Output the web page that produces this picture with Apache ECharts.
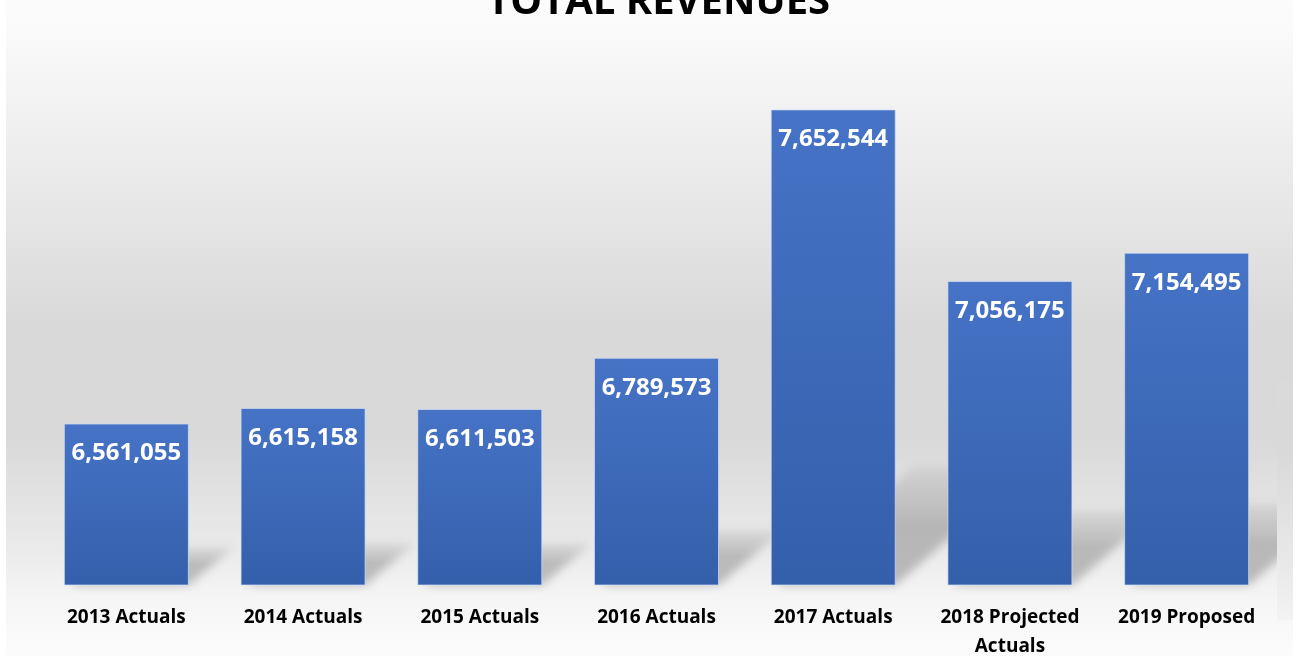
<!DOCTYPE html>
<html>
<head>
<meta charset="utf-8">
<title>Total Revenues</title>
<script src="https://cdn.jsdelivr.net/npm/echarts@6/dist/echarts.min.js"></script>
<style>
  html, body { margin: 0; padding: 0; background: #ffffff; }
  #chart { width: 1299px; height: 656px; }
</style>
</head>
<body>
<div id="chart"></div>
<script>
// Revenue per budget year
const categories = ['2013 Actuals', '2014 Actuals', '2015 Actuals', '2016 Actuals',
                    '2017 Actuals', '2018 Projected\nActuals', '2019 Proposed'];
const revenues = [6561055, 6615158, 6611503, 6789573, 7652544, 7056175, 7154495];
const axisMin = 6000000;
const axisMax = 7800000;

const chart = echarts.init(document.getElementById('chart'), null, { renderer: 'canvas' });

const BAR_W = 125;
const FONT = '"Open Sans", "DejaVu Sans", sans-serif';
const OFF = 1200; // shape is drawn off-canvas so only its blurred shadow shows

// Soft skewed floor shadow cast to the right of each bar
function renderShadow(params, api) {
  const i = api.value(0);
  const v = api.value(1);
  const top = api.coord([i, v]);
  const base = api.coord([i, axisMin]);
  const h = base[1] - top[1];
  const sh = h * 0.25;
  const dx = sh * 1.15;
  const x0 = top[0] - BAR_W / 2 + 6;
  const x1 = top[0] + BAR_W / 2;
  const by = base[1] + OFF;
  return {
    type: 'polygon',
    shape: {
      points: [[x0, by], [x1, by], [x1 + dx, by - sh], [x0 + dx, by - sh]]
    },
    style: {
      fill: new echarts.graphic.LinearGradient(0, 1, 0, 0, [
        { offset: 0, color: 'rgba(0,0,0,0.23)' },
        { offset: 0.5, color: 'rgba(0,0,0,0.21)' },
        { offset: 1, color: 'rgba(0,0,0,0.05)' }
      ]),
      shadowBlur: 10,
      shadowOffsetY: -OFF,
      shadowColor: 'rgba(0,0,0,1)'
    }
  };
}

chart.setOption({
  animation: false,
  graphic: [
    {
      type: 'rect',
      z: -10,
      silent: true,
      shape: { x: 6, y: 0, width: 1287, height: 656 },
      style: {
        fill: new echarts.graphic.LinearGradient(0, 0, 0, 1, [
          { offset: 0, color: '#fcfcfc' },
          { offset: 0.08, color: '#f8f8f8' },
          { offset: 0.5, color: '#d9d9d9' },
          { offset: 0.67, color: '#d9d9d9' },
          { offset: 0.85, color: '#ececec' },
          { offset: 0.92, color: '#f6f6f6' },
          { offset: 1, color: '#fcfcfc' }
        ])
      }
    },
    {
      type: 'text',
      z: 10,
      left: 487,
      top: -17,
      style: {
        text: 'TOTAL REVENUES',
        fill: '#000000',
        font: 'bold 40px ' + FONT
      }
    },
    {
      // clip the floor shadows at the right edge of the plot area
      type: 'rect',
      z: 0,
      silent: true,
      shape: { x: 1277, y: 380, width: 16, height: 240 },
      style: {
        fill: new echarts.graphic.LinearGradient(0, 0, 0, 1, [
          { offset: 0, color: '#dadada' },
          { offset: 0.3, color: '#d9d9d9' },
          { offset: 0.8, color: '#eaeaea' },
          { offset: 1, color: '#f3f3f3' }
        ])
      }
    },
    {
      type: 'rect',
      z: 0,
      silent: true,
      shape: { x: 1293, y: 380, width: 6, height: 240 },
      style: { fill: '#ffffff' }
    }
  ],
  grid: { left: 38, right: 24, top: 67, bottom: 71, outerBoundsMode: 'none' },
  xAxis: {
    type: 'category',
    data: categories,
    axisLine: { show: false },
    axisTick: { show: false },
    axisLabel: {
      margin: 18,
      color: '#000000',
      fontFamily: FONT,
      fontWeight: 'bold',
      fontSize: 19,
      lineHeight: 29,
      interval: 0
    }
  },
  yAxis: {
    type: 'value',
    min: axisMin,
    max: axisMax,
    show: false,
    splitLine: { show: false }
  },
  series: [
    {
      type: 'custom',
      z: -1,
      clip: false,
      silent: true,
      renderItem: renderShadow,
      encode: { x: 0, y: 1 },
      data: revenues.map((v, i) => [i, v])
    },
    {
      type: 'bar',
      z: 2,
      barWidth: BAR_W,
      data: revenues,
      itemStyle: {
        color: new echarts.graphic.LinearGradient(0, 0, 0, 1, [
          { offset: 0, color: '#4673c6' },
          { offset: 1, color: '#345fab' }
        ]),
        borderColor: 'rgba(210,222,245,0.7)',
        borderWidth: 1
      },
      label: {
        show: true,
        position: 'insideTop',
        distance: 18,
        color: '#ffffff',
        fontFamily: FONT,
        fontWeight: 'bold',
        fontSize: 24,
        formatter: p => p.value.toLocaleString('en-US')
      }
    }
  ]
});
</script>
</body>
</html>
